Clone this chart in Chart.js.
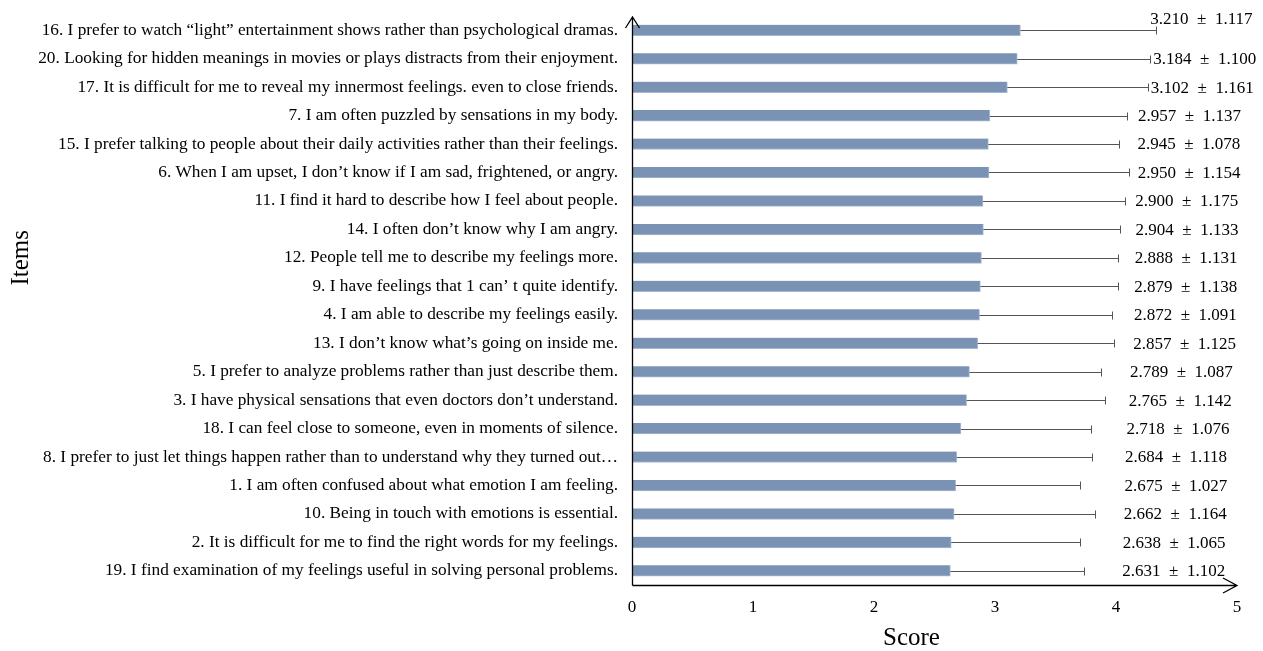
<!DOCTYPE html>
<html>
<head>
<meta charset="utf-8">
<script src="https://cdn.jsdelivr.net/npm/chart.js@4/dist/chart.umd.min.js"></script>
<style>
  html, body { margin: 0; padding: 0; background: #ffffff; }
  #wrap { width: 1263px; height: 651px; }
</style>
</head>
<body>
<div id="wrap"><canvas id="chart" width="1263" height="651"></canvas></div>
<script>
// TAS-20 items, listed top to bottom in the order they are drawn
const items = [
  '16. I prefer to watch \u201Clight\u201D entertainment shows rather than psychological dramas.',
  '20. Looking for hidden meanings in movies or plays distracts from their enjoyment.',
  '17. It is difficult for me to reveal my innermost feelings. even to close friends.',
  '7. I am often puzzled by sensations in my body.',
  '15. I prefer talking to people about their daily activities rather than their feelings.',
  '6. When I am upset, I don\u2019t know if I am sad, frightened, or angry.',
  '11. I find it hard to describe how I feel about people.',
  '14. I often don\u2019t know why I am angry.',
  '12. People tell me to describe my feelings more.',
  '9. I have feelings that 1 can\u2019 t quite identify.',
  '4. I am able to describe my feelings easily.',
  '13. I don\u2019t know what\u2019s going on inside me.',
  '5. I prefer to analyze problems rather than just describe them.',
  '3. I have physical sensations that even doctors don\u2019t understand.',
  '18. I can feel close to someone, even in moments of silence.',
  '8. I prefer to just let things happen rather than to understand why they turned out\u2026',
  '1. I am often confused about what emotion I am feeling.',
  '10. Being in touch with emotions is essential.',
  '2. It is difficult for me to find the right words for my feelings.',
  '19. I find examination of my feelings useful in solving personal problems.'
];

// mean score per item
const means = [3.210, 3.184, 3.102, 2.957, 2.945, 2.950, 2.900, 2.904, 2.888, 2.879,
               2.872, 2.857, 2.789, 2.765, 2.718, 2.684, 2.675, 2.662, 2.638, 2.631];

// standard deviation per item
const sds = [1.117, 1.100, 1.161, 1.137, 1.078, 1.154, 1.175, 1.133, 1.131, 1.138,
             1.091, 1.125, 1.087, 1.142, 1.076, 1.118, 1.027, 1.164, 1.065, 1.102];

// score axis ticks
const scoreTicks = [0, 1, 2, 3, 4, 5];

const SERIF = '"Liberation Serif", "Times New Roman", serif';

// whiskers (+1 SD), "mean ± SD" labels, axis titles and the arrowed axes
const overlay = {
  id: 'overlay',
  afterDatasetsDraw(chart) {
    const { ctx, chartArea: a, scales: { x, y } } = chart;
    ctx.save();

    ctx.strokeStyle = '#555555';
    ctx.lineWidth = 1;
    means.forEach((m, i) => {
      const yc = Math.round(y.getPixelForValue(i)) + 0.5;
      const x0 = x.getPixelForValue(m);
      const x1 = Math.round(x.getPixelForValue(m + sds[i])) + 0.5;
      ctx.beginPath();
      ctx.moveTo(x0, yc);
      ctx.lineTo(x1, yc);
      ctx.moveTo(x1, yc - 4);
      ctx.lineTo(x1, yc + 4);
      ctx.stroke();
    });

    // labels sit in a column right of the whiskers, drifting with the mean;
    // a label that would sit on its whisker cap is lifted above it
    ctx.fillStyle = '#000000';
    ctx.font = '17px ' + SERIF;
    ctx.textAlign = 'left';
    ctx.textBaseline = 'middle';
    means.forEach((m, i) => {
      let yc = y.getPixelForValue(i) + 1;
      let lx = x.getPixelForValue(3 + 0.4 * m);
      const cap = x.getPixelForValue(m + sds[i]);
      if (cap - lx > 4) {
        yc -= 12;
      } else if (cap + 3 > lx) {
        lx = cap + 3;
      }
      ctx.fillText(m.toFixed(3) + '\u2002\u00B1\u2002' + sds[i].toFixed(3), lx, yc);
    });

    // axis titles
    ctx.font = '25px ' + SERIF;
    ctx.textAlign = 'center';
    ctx.textBaseline = 'middle';
    ctx.fillText('Score', a.left + (a.right - a.left) * 0.462, chart.height - 13);
    ctx.save();
    ctx.translate(21, a.top + (a.bottom - a.top) * 0.425);
    ctx.rotate(-Math.PI / 2);
    ctx.fillText('Items', 0, 0);
    ctx.restore();

    // axes
    const x0 = Math.round(a.left) + 0.5;
    const yb = Math.round(a.bottom) + 0.5;
    const yTop = a.top + 1;
    const xEnd = a.right;
    ctx.strokeStyle = '#000000';
    ctx.lineWidth = 1.3;
    ctx.beginPath();
    ctx.moveTo(x0, yb);
    ctx.lineTo(x0, yTop);
    ctx.moveTo(x0 - 7, yTop + 11);
    ctx.lineTo(x0, yTop);
    ctx.lineTo(x0 + 7, yTop + 11);
    ctx.moveTo(x0, yb);
    ctx.lineTo(xEnd, yb);
    ctx.moveTo(xEnd - 14, yb - 7.5);
    ctx.lineTo(xEnd, yb);
    ctx.lineTo(xEnd - 14, yb + 7.5);
    ctx.stroke();

    ctx.restore();
  }
};

new Chart(document.getElementById('chart'), {
  type: 'bar',
  data: {
    labels: items,
    datasets: [{
      data: means,
      backgroundColor: '#7a93b5',
      borderColor: '#a7b9d2',
      borderWidth: { top: 0, left: 0, right: 1, bottom: 1 },
      borderSkipped: false,
      barThickness: 11
    }]
  },
  options: {
    indexAxis: 'y',
    responsive: false,
    animation: false,
    devicePixelRatio: 1,
    layout: { padding: { top: 16, right: 26, bottom: 0, left: 0 } },
    plugins: {
      legend: { display: false },
      tooltip: { enabled: false }
    },
    scales: {
      x: {
        min: 0,
        max: 5,
        afterBuildTicks(scale) {
          scale.ticks = scoreTicks.map(v => ({ value: v }));
        },
        afterFit(scale) { scale.height = 66; },
        grid: { display: false, drawTicks: false },
        border: { display: false },
        ticks: {
          padding: 12,
          color: '#000000',
          font: { family: SERIF, size: 17 }
        }
      },
      y: {
        afterFit(scale) {
          scale.width = 632;
          scale.paddingTop = 0;
          scale.paddingBottom = 0;
        },
        grid: { display: false, drawTicks: false },
        border: { display: false },
        ticks: {
          padding: 14,
          autoSkip: false,
          color: '#000000',
          font: { family: SERIF, size: 17.3 }
        }
      }
    }
  },
  plugins: [overlay]
});
</script>
</body>
</html>
